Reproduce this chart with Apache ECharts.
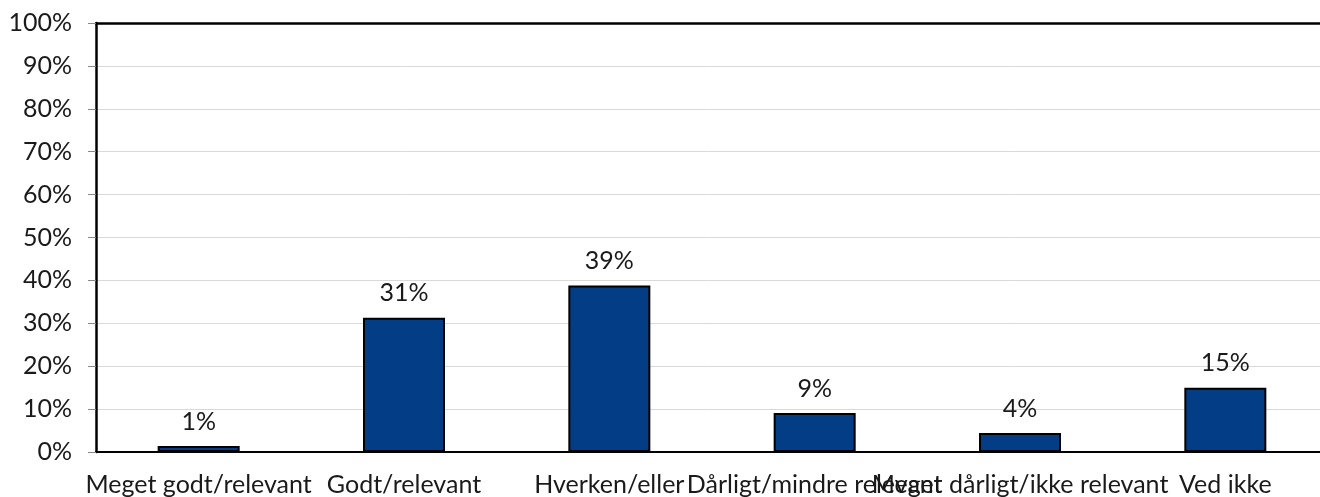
<!DOCTYPE html>
<html>
<head>
<meta charset="utf-8">
<script src="https://cdn.jsdelivr.net/npm/echarts@6/dist/echarts.min.js"></script>
<style>
html,body{margin:0;padding:0;background:#fff;}
#chart{width:1320px;height:497px;}
</style>
</head>
<body>
<div id="chart"></div>
<script>
const categories = ["Meget godt/relevant", "Godt/relevant", "Hverken/eller", "Dårligt/mindre relevant", "Meget dårligt/ikke relevant", "Ved ikke"];
const values = [1.4, 31.3, 38.8, 9.1, 4.4, 15.0];
const yTicks = { min: 0, max: 100, interval: 10 };

const FONT = "Lato";
const chart = echarts.init(document.getElementById('chart'));
chart.setOption({
  animation: false,
  backgroundColor: '#ffffff',
  grid: { left: 96, width: 1232, top: 23, bottom: 45, containLabel: false, outerBoundsMode: 'none' },
  xAxis: [{
    type: 'category',
    data: categories,
    position: 'bottom',
    axisLine: { show: true, lineStyle: { color: '#000', width: 2 } },
    axisTick: { show: false },
    axisLabel: { interval: 0, color: '#1a1a1a', fontFamily: FONT, fontSize: 25, margin: 20, hideOverlap: false }
  }, {
    type: 'category',
    data: categories,
    position: 'top',
    axisLine: { show: true, lineStyle: { color: '#000', width: 2.5 } },
    axisTick: { show: false },
    axisLabel: { show: false }
  }],
  yAxis: {
    type: 'value',
    min: yTicks.min, max: yTicks.max, interval: yTicks.interval,
    axisLine: { show: true, lineStyle: { color: '#000', width: 2.5 } },
    axisTick: { show: true, length: 8, lineStyle: { color: '#888', width: 1 } },
    axisLabel: { formatter: '{value}%', color: '#1a1a1a', fontFamily: FONT, fontSize: 25, margin: 24 },
    splitLine: { show: true, lineStyle: { color: '#d9d9d9', width: 1 } }
  },
  series: [{
    type: 'bar',
    data: values,
    barWidth: 82,
    itemStyle: { color: '#023d86', borderColor: '#000', borderWidth: 2 },
    label: {
      show: true, position: 'top', distance: 12,
      formatter: p => Math.round(p.value) + '%',
      color: '#1a1a1a', fontFamily: FONT, fontSize: 25
    }
  }]
});
</script>
</body>
</html>
